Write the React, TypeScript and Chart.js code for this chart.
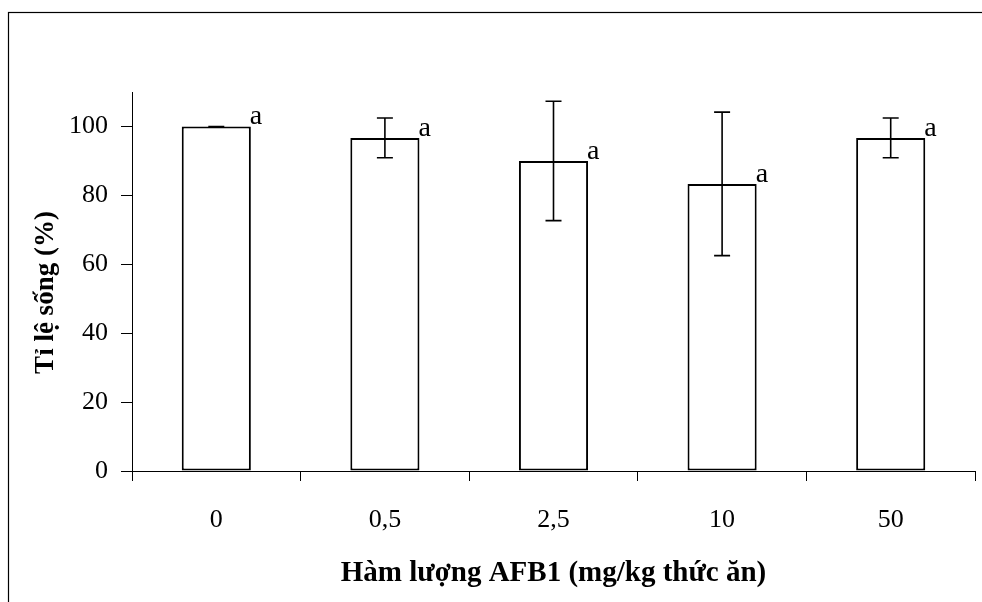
import React, { useEffect, useRef } from 'react';
import { Chart, registerables } from 'chart.js';

Chart.register(...registerables);

const categories = ['0', '0,5', '2,5', '10', '50'];
const survival = [100, 96.67, 90, 83.33, 96.67];
const errors = [0, 5.77, 17.32, 20.82, 5.77];
const letters = ['a', 'a', 'a', 'a', 'a'];
const yMin = 0;
const yMax = 110;
const yStep = 20;
const xTitle = 'Hàm lượng AFB1 (mg/kg thức ăn)';
const yTitle = 'Tỉ lệ sống (%)';

const FONT = '"Liberation Serif", "Times New Roman", serif';

const borderPlugin = {
  id: 'frameBorder',
  beforeDraw(chart: any) {
    const ctx = chart.ctx;
    ctx.save();
    ctx.fillStyle = '#fff';
    ctx.fillRect(0, 0, chart.width, chart.height);
    ctx.strokeStyle = '#000';
    ctx.lineWidth = 1.2;
    ctx.strokeRect(8.5, 12.5, chart.width + 50, chart.height + 50);
    ctx.restore();
  },
};

const titlesPlugin = {
  id: 'axisTitles',
  afterDraw(chart: any) {
    const ctx = chart.ctx;
    const area = chart.chartArea;
    ctx.save();
    ctx.fillStyle = '#000';
    ctx.font = `bold 29px ${FONT}`;
    ctx.textAlign = 'center';
    ctx.textBaseline = 'alphabetic';
    ctx.fillText(xTitle, (area.left + area.right) / 2, 581);
    ctx.translate(53, (area.top + area.bottom) / 2 + 11);
    ctx.rotate(-Math.PI / 2);
    ctx.font = `bold 27px ${FONT}`;
    ctx.fillText(yTitle, 0, 0);
    ctx.restore();
  },
};

const errorBarPlugin = {
  id: 'errorBars',
  afterDatasetsDraw(chart: any) {
    const ctx = chart.ctx;
    const meta = chart.getDatasetMeta(0);
    const yScale = chart.scales.y;
    ctx.save();
    ctx.strokeStyle = '#000';
    ctx.lineWidth = 1.6;
    const cap = 8;
    meta.data.forEach((el: any, i: number) => {
      const v = survival[i];
      const e = errors[i];
      const x = el.x;
      const yT = yScale.getPixelForValue(v + e);
      const yB = yScale.getPixelForValue(v - e);
      ctx.beginPath();
      if (e > 0) {
        ctx.moveTo(x, yT);
        ctx.lineTo(x, yB);
      }
      ctx.moveTo(x - cap, yT);
      ctx.lineTo(x + cap, yT);
      ctx.moveTo(x - cap, yB);
      ctx.lineTo(x + cap, yB);
      ctx.stroke();
      ctx.fillStyle = '#000';
      ctx.font = `28px ${FONT}`;
      ctx.textAlign = 'left';
      ctx.textBaseline = 'alphabetic';
      ctx.fillText(letters[i], x + el.width / 2 - 1, el.y - 2);
    });
    ctx.restore();
  },
};

export default function App() {
  const ref = useRef<HTMLCanvasElement | null>(null);
  useEffect(() => {
    if (!ref.current) return;
    const chart = new Chart(ref.current, {
      type: 'bar',
      data: {
        labels: categories,
        datasets: [
          {
            data: survival,
            backgroundColor: '#ffffff',
            borderColor: '#000000',
            borderWidth: 2,
            borderSkipped: false,
            barPercentage: 0.41,
            categoryPercentage: 1,
          },
        ],
      },
      options: {
        responsive: false,
        animation: false,
        devicePixelRatio: 1,
        layout: { padding: { top: 92, right: 7, left: 0, bottom: 0 } },
        plugins: {
          legend: { display: false },
          tooltip: { enabled: false },
        },
        scales: {
          x: {
            type: 'category',
            offset: true,
            afterFit: (s: any) => {
              s.height = 131;
            },
            grid: {
              offset: true,
              drawOnChartArea: false,
              drawTicks: true,
              tickLength: 10,
              color: '#000',
              lineWidth: 1,
            },
            border: { color: '#000', width: 1 },
            ticks: {
              color: '#000',
              font: { family: FONT, size: 26 },
              padding: 24,
              maxRotation: 0,
            },
          },
          y: {
            min: yMin,
            max: yMax,
            afterFit: (s: any) => {
              s.width = 132;
            },
            grid: {
              drawOnChartArea: false,
              drawTicks: true,
              tickLength: 11,
              color: '#000',
              lineWidth: 1,
            },
            border: { color: '#000', width: 1 },
            ticks: {
              stepSize: yStep,
              includeBounds: false,
              color: '#000',
              font: { family: FONT, size: 26 },
              padding: 13,
            },
          },
        },
      },
      plugins: [borderPlugin, errorBarPlugin, titlesPlugin],
    } as any);
    return () => chart.destroy();
  }, []);
  return (
    <div style={{ position: 'absolute', left: 0, top: 0, width: 982, height: 602 }}>
      <canvas ref={ref} width={982} height={602} style={{ width: 982, height: 602, display: 'block' }} />
    </div>
  );
}
